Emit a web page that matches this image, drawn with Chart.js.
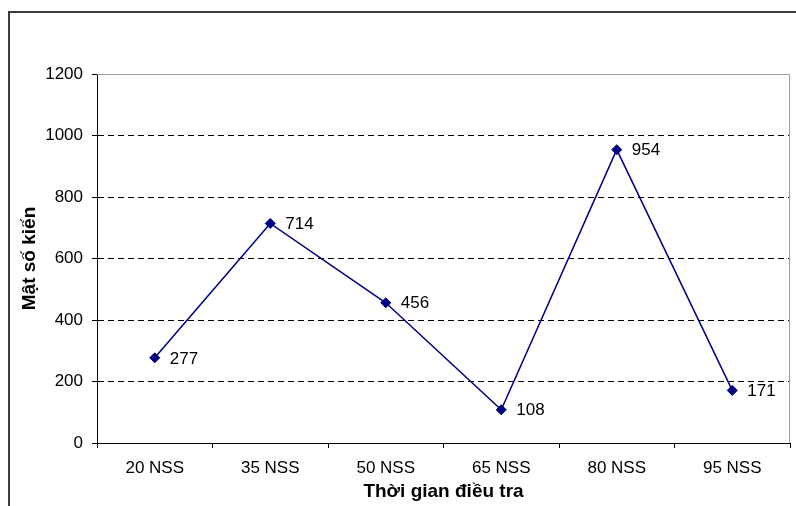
<!DOCTYPE html>
<meta charset="utf-8">
<html lang="vi">
<head>
  <title>mat so kien</title>
  <style type="text/css">
  body { margin: 0; background: #fff; }
  #wrap { width: 796px; height: 506px; }
  </style>
</head>
<body>

<div id="wrap">
  <canvas id="myChart"></canvas>
</div>

<script src="https://cdn.jsdelivr.net/npm/chart.js"></script>

<script>

  const Labels = ['20 NSS', '35 NSS', '50 NSS', '65 NSS', '80 NSS', '95 NSS'];
  const Counts = [277, 714, 456, 108, 954, 171];
  const YTicks = [0, 200, 400, 600, 800, 1000, 1200];

  const FONT = "'Liberation Sans', Arial, sans-serif";
  const NAVY = '#000080';

  // outer frame, plot border and the value labels
  const decor = {
    id: 'decor',
    beforeDraw: (chart) => {
      const c = chart.ctx;
      c.save();
      c.fillStyle = '#fff';
      c.fillRect(0, 0, chart.width, chart.height);
      c.strokeStyle = '#3c3c3c';
      c.lineWidth = 2;
      c.strokeRect(9, 12, chart.width + 20, chart.height + 20);
      c.restore();
    },
    beforeDatasetsDraw: (chart) => {
      const a = chart.chartArea;
      const c = chart.ctx;
      c.save();
      c.strokeStyle = '#a0a0a0';
      c.lineWidth = 1;
      c.beginPath();
      c.moveTo(a.left, a.top + 0.5);
      c.lineTo(a.right - 0.5, a.top + 0.5);
      c.lineTo(a.right - 0.5, a.bottom);
      c.stroke();
      c.restore();
    },
    afterDatasetsDraw: (chart) => {
      const c = chart.ctx;
      const pts = chart.getDatasetMeta(0).data;
      c.save();
      c.font = '17px ' + FONT;
      c.fillStyle = '#000';
      c.textAlign = 'left';
      c.textBaseline = 'middle';
      for (var i = 0; i < pts.length; ++i) {
        c.fillText(Counts[i] + '', pts[i].x + 15, pts[i].y + 1);
      }
      c.restore();
    }
  };

  const ctx = document.getElementById('myChart');

  const our_chart = new Chart(ctx, {
    type: 'line',
    plugins: [decor],
    data: {
      labels: Labels,
      datasets: [{
        data: Counts,
        borderColor: NAVY,
        borderWidth: 1.5,
        backgroundColor: NAVY,
        pointBackgroundColor: NAVY,
        pointBorderColor: NAVY,
        pointStyle: 'rectRot',
        pointRadius: 5,
        pointBorderWidth: 1,
        tension: 0
      }]
    },
    options: {
      responsive: true,
      maintainAspectRatio: false,
      animation: false,
      layout: {padding: {top: 74, right: 2, left: 0, bottom: 0}},
      plugins: {legend: {display: false}, tooltip: {enabled: false}},
      scales: {
        x: {
          offset: true,
          afterFit: (axis) => { axis.height = 63; },
          grid: {
            offset: true,
            drawOnChartArea: false,
            drawTicks: true,
            tickLength: 5,
            tickColor: '#000',
            tickWidth: 1
          },
          border: {display: true, color: '#000', width: 1},
          ticks: {color: '#000', padding: 10, font: {family: FONT, size: 17}},
          title: {
            display: true,
            text: 'Thời gian điều tra',
            color: '#000',
            padding: {top: 0, bottom: 3},
            font: {family: FONT, size: 19, weight: 'bold'}
          }
        },
        y: {
          min: 0, max: 1200,
          afterBuildTicks: (axis) => { axis.ticks = YTicks.map(v => ({value: v})); },
          afterFit: (axis) => { axis.width = 97; },
          grid: {
            color: (c) => c.tick && c.tick.value === 1200 ? '#a0a0a0' : '#000',
            lineWidth: 1,
            tickLength: 5,
            tickColor: '#000',
            tickBorderDash: []
          },
          border: {
            display: true, color: '#000', width: 1,
            dash: (c) => c.tick && c.tick.value === 1200 ? [] : [6, 4]
          },
          ticks: {
            color: '#000', padding: 9, font: {family: FONT, size: 17},
            callback: (v) => v + ''
          },
          title: {
            display: true,
            text: 'Mật số kiến',
            color: '#000',
            padding: {top: 18, bottom: 0},
            font: {family: FONT, size: 19, weight: 'bold'}
          }
        }
      }
    }
  });

</script>
</body>
</html>
